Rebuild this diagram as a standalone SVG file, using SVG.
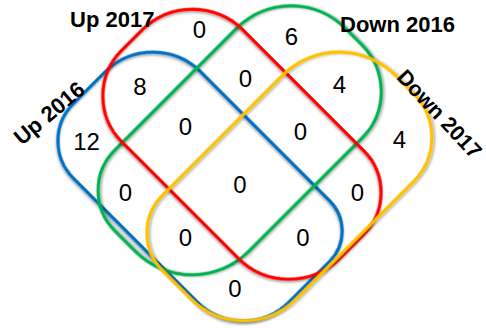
<svg xmlns="http://www.w3.org/2000/svg" width="486" height="328" viewBox="0 0 486 328">
<defs>
<filter id="sh" x="-10%" y="-10%" width="120%" height="120%">
<feDropShadow dx="1" dy="1.5" stdDeviation="0.8" flood-color="#000" flood-opacity="0.35"/>
</filter>
<style>
.set{fill:none;stroke-width:3.2;filter:url(#sh)}
.lbl{font-family:"Liberation Sans",Arial,sans-serif;font-weight:bold;font-size:22px;fill:#000}
.num{font-family:"Liberation Sans",Arial,sans-serif;font-size:24px;fill:#000;text-anchor:middle}
</style>
</defs>
<rect width="486" height="328" fill="#fff"/>
<g id="connectors"/>
<g id="up2016">
<path class="set" stroke="#0070C0" transform="translate(198,186) rotate(45)" d="M-78.4,-82.7 L103.4,-82.7 A43,43 0 0 1 146.4,-39.7 L146.4,17.7 A65,65 0 0 1 81.4,82.7 L-93.4,82.7 A53,53 0 0 1 -146.4,29.7 L-146.4,-14.7 A68,68 0 0 1 -78.4,-82.7 Z"/>
<text class="lbl" text-anchor="middle" transform="translate(54,119) rotate(-40)">Up 2016</text>
</g>
<g id="down2016">
<path class="set" stroke="#00B050" transform="translate(241.5,141) rotate(-45)" d="M-96.1,-83.1 L76.1,-83.1 A77,77 0 0 1 153.1,-6.1 L153.1,17.1 A66,66 0 0 1 87.1,83.1 L-73.1,83.1 A80,80 0 0 1 -153.1,3.1 L-153.1,-26.1 A57,57 0 0 1 -96.1,-83.1 Z"/>
<text class="lbl" x="340" y="32">Down 2016</text>
</g>
<g id="up2017">
<path class="set" stroke="#FF0000" transform="translate(240.75,144.25) rotate(45)" d="M-78.6,-82.4 L91.6,-82.4 A59,59 0 0 1 150.6,-23.4 L150.6,10.4 A72,72 0 0 1 78.6,82.4 L-85.6,82.4 A65,65 0 0 1 -150.6,17.4 L-150.6,-10.4 A72,72 0 0 1 -78.6,-82.4 Z"/>
<text class="lbl" x="70" y="27">Up 2017</text>
</g>
<g id="down2017">
<path class="set" stroke="#FFC000" transform="translate(291.25,185.25) rotate(-45)" d="M-98.3,-83.8 L71.3,-83.8 A80,80 0 0 1 151.3,-3.8 L151.3,21.8 A62,62 0 0 1 89.3,83.8 L-77.3,83.8 A74,74 0 0 1 -151.3,9.8 L-151.3,-30.8 A53,53 0 0 1 -98.3,-83.8 Z"/>
<text class="lbl" text-anchor="middle" style="font-size:21.5px" transform="translate(434,119) rotate(47)">Down 2017</text>
</g>
<g id="counts">
<text class="num" x="199.5" y="38">0</text>
<text class="num" x="291.5" y="45">6</text>
<text class="num" x="140" y="95">8</text>
<text class="num" x="245.5" y="87">0</text>
<text class="num" x="339.5" y="93">4</text>
<text class="num" x="86.5" y="150">12</text>
<text class="num" x="185.5" y="135">0</text>
<text class="num" x="300.5" y="140">0</text>
<text class="num" x="399.5" y="148">4</text>
<text class="num" x="125.5" y="201">0</text>
<text class="num" x="240" y="193">0</text>
<text class="num" x="357.5" y="201">0</text>
<text class="num" x="185.5" y="246">0</text>
<text class="num" x="303" y="246">0</text>
<text class="num" x="235" y="297">0</text>
</g>
</svg>
